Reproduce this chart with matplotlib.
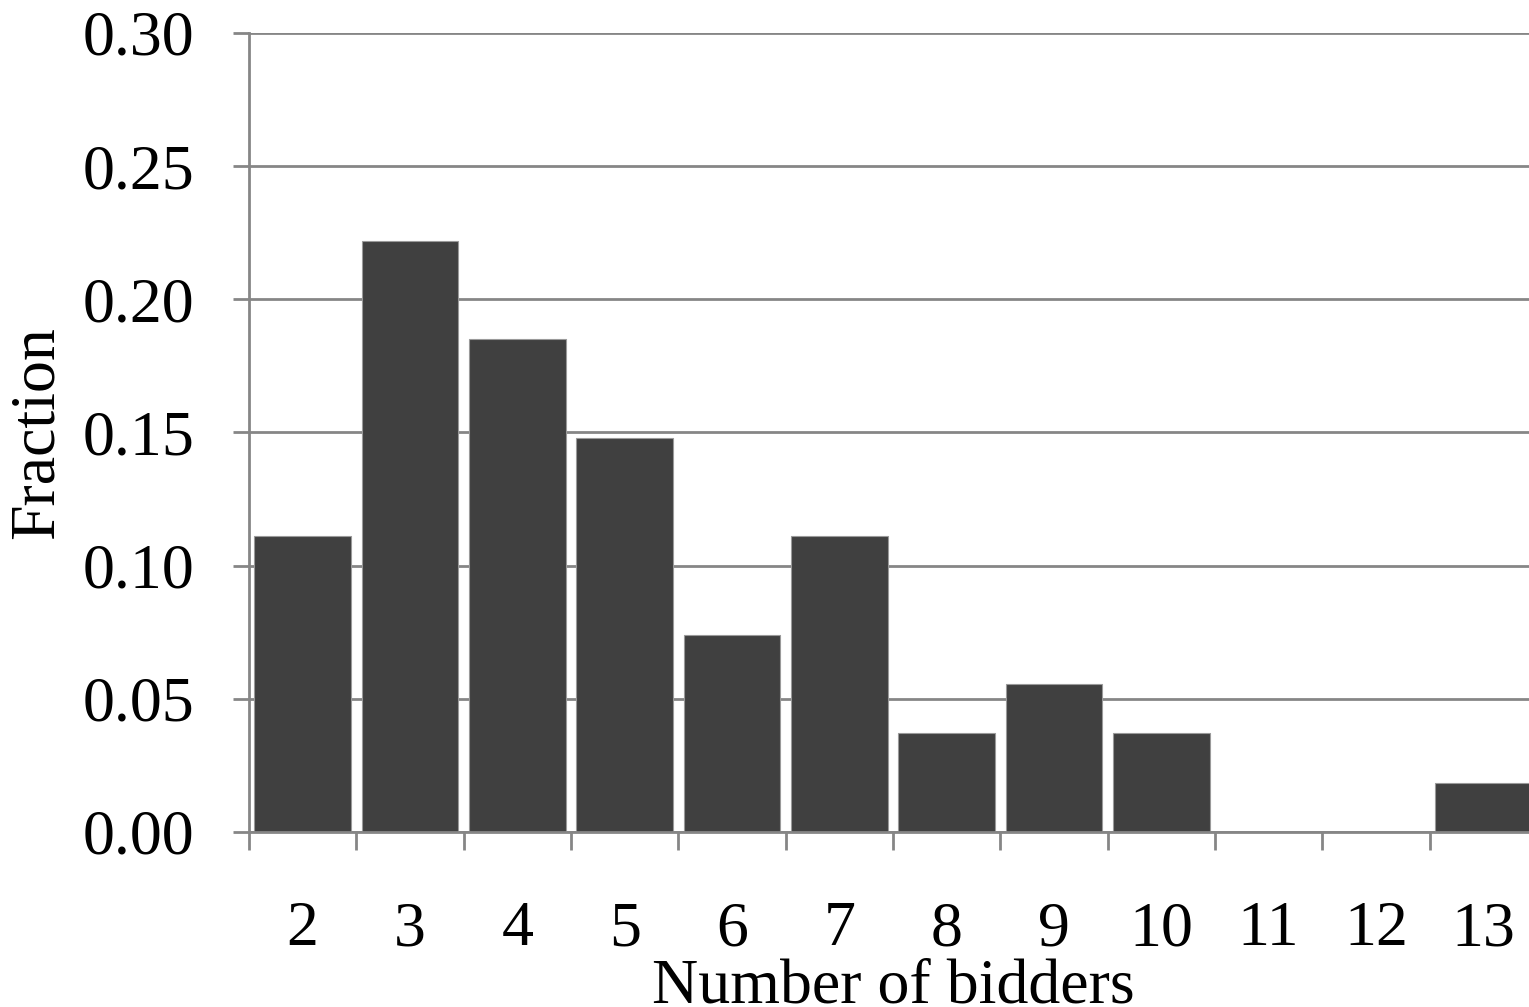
import numpy as np
import matplotlib.pyplot as plt
from matplotlib.ticker import FixedLocator, MultipleLocator

plt.rcParams['font.family'] = ['Liberation Serif', 'DejaVu Serif']

BIDDERS = ['2', '3', '4', '5', '6', '7', '8', '9', '10', '11', '12', '13']
FRACTION = [0.111, 0.222, 0.185, 0.148, 0.074, 0.111, 0.037, 0.0556, 0.037,
            0.0, 0.0, 0.0185]

GRID = '#868686'
BAR = '#404040'

fig = plt.figure(figsize=(15.29, 10.07), dpi=100)
ax = fig.add_axes([249 / 1529, 175 / 1007, 1288 / 1529, 799 / 1007])

x = np.arange(len(BIDDERS))
ax.bar(x, FRACTION, width=0.9, color=BAR, edgecolor='#9a9a9a', lw=0.8,
       zorder=3, clip_on=True)

ax.set_xlim(-0.5, len(BIDDERS) - 0.5)
ax.set_ylim(0, 0.30)
ax.yaxis.set_major_locator(MultipleLocator(0.05))
ax.yaxis.set_major_formatter(lambda v, p: f'{v:.2f}')
ax.yaxis.grid(True, color=GRID, lw=2, zorder=0)

ax.set_xticks(x)
ax.set_xticklabels(BIDDERS)
ax.xaxis.set_minor_locator(FixedLocator(np.arange(-0.5, len(BIDDERS), 1.0)))
ax.tick_params(axis='x', which='major', length=0, pad=50, labelsize=46)
ax.tick_params(axis='x', which='minor', length=13, width=2, color=GRID,
               direction='out')
ax.tick_params(axis='y', length=11.5, width=2, color=GRID, pad=28,
               labelsize=46, direction='out')

for s in ['top', 'right']:
    ax.spines[s].set_visible(False)
for s in ['left', 'bottom']:
    ax.spines[s].set_color(GRID)
    ax.spines[s].set_linewidth(2)
    ax.spines[s].set_zorder(4)

ax.set_ylabel('Fraction', fontsize=46, labelpad=11)
ax.set_xlabel('Number of bidders', fontsize=46, labelpad=-1)

fig.savefig('out.png', dpi=100)
